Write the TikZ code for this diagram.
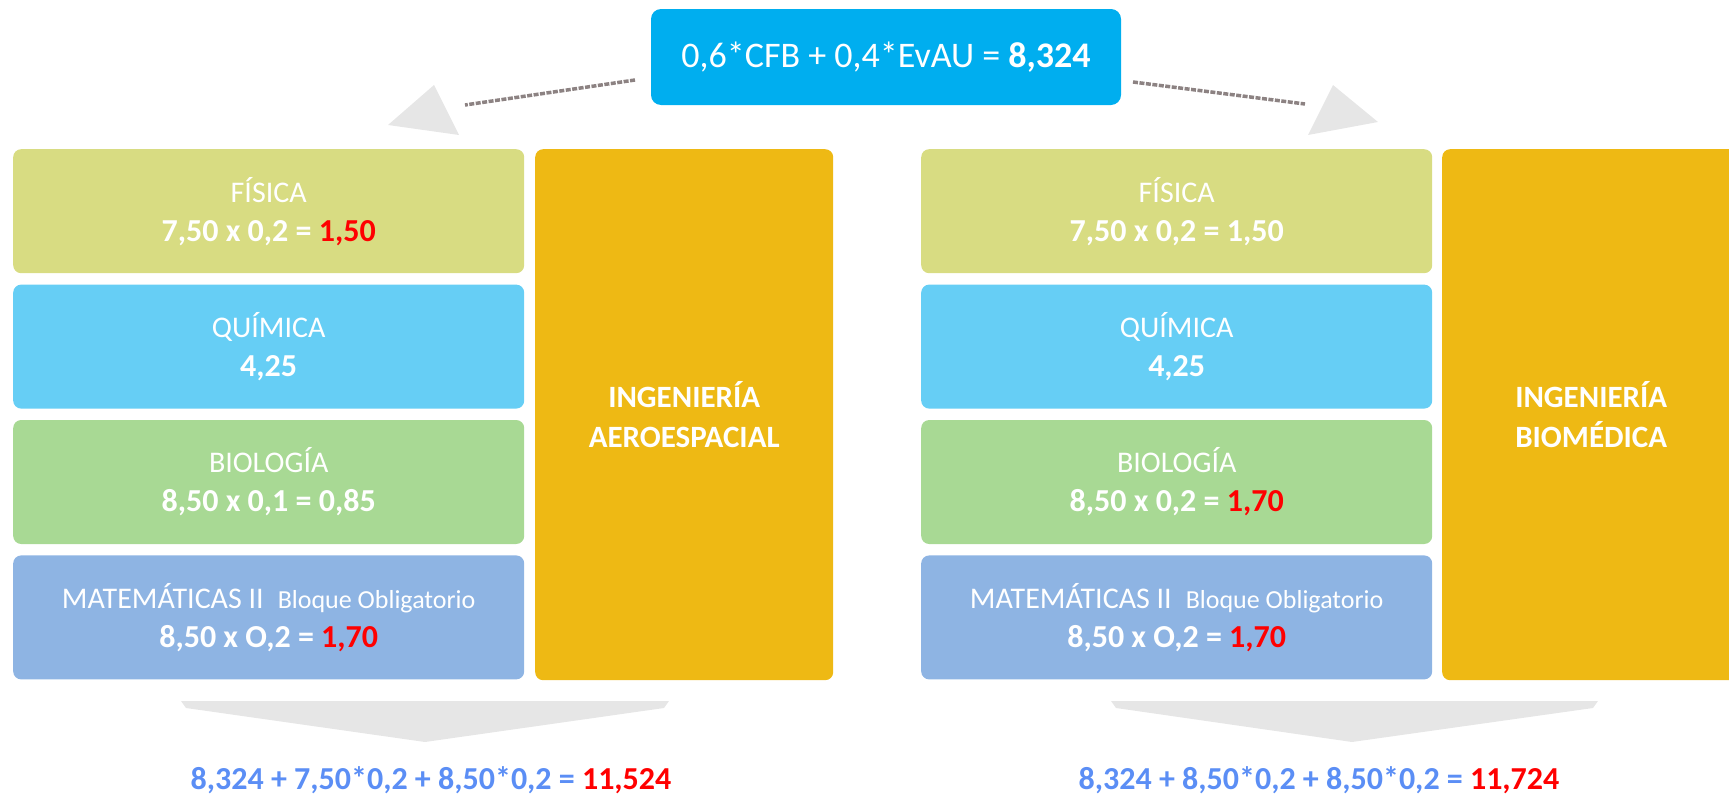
\documentclass[tikz,border=0pt]{standalone}
\usepackage{fontspec}
\setmainfont{Carlito}
\usetikzlibrary{positioning}
\definecolor{cfis}{HTML}{D8DC82}
\definecolor{cqui}{HTML}{66CEF5}
\definecolor{cbio}{HTML}{A8D994}
\definecolor{cmat}{HTML}{8EB4E3}
\definecolor{cing}{HTML}{EEB914}
\definecolor{ctop}{HTML}{00AEEF}
\definecolor{clink}{HTML}{8C8282}
\definecolor{chead}{HTML}{E6E6E6}
\definecolor{cred}{HTML}{FF0000}
\definecolor{cblue}{HTML}{5B8EF5}
\tikzstyle{subject} = [rectangle, text=white, rounded corners=8pt, %
   minimum width=511pt, minimum height=124pt, inner sep=0pt, %
   align=center, font=\fontsize{30}{39}\selectfont]
\tikzstyle{career} = [rectangle, fill=cing, text=white, rounded corners=8pt, %
   minimum width=298pt, minimum height=531pt, inner sep=0pt, %
   align=center, font=\fontsize{31}{40}\selectfont\bfseries]
\tikzstyle{formula} = [rectangle, fill=ctop, text=white, rounded corners=10pt, %
   minimum width=470pt, minimum height=96pt, font=\fontsize{36}{40}\selectfont]
\tikzstyle{total} = [text=cblue, font=\fontsize{32}{38}\selectfont\bfseries]
\tikzstyle{link} = [draw=clink, line width=3.5pt, dash pattern=on 5pt off 1.5pt]
\tikzstyle{head} = [fill=chead]
\newcommand{\nota}[1]{{\fontsize{32}{39}\selectfont\bfseries #1}}
\newcommand{\rojo}[1]{\textcolor{cred}{#1}}

\begin{document}
\begin{tikzpicture}[x=1pt,y=-1pt]
   \useasboundingbox (0,0) rectangle (1729,795);

   % Place nodes
   \node[formula](cfb) at (886,57){0,6*CFB + 0,4*EvAU = \textbf{8,324}};

   % AEROESPACIAL %%%%%%%%%%%%%%%%%%%%%%%%%%%%%%%%%%%%%%%%%%%%%%%%%%
   \node[subject, fill=cfis, anchor=north west](fis1) at (13,149){%
      FÍSICA\\\nota{7,50 x 0,2 = \rojo{1,50}}};
   \node[subject, fill=cqui, below=11pt of fis1](qui1){%
      QUÍMICA\\\nota{4,25}};
   \node[subject, fill=cbio, below=11pt of qui1](bio1){%
      BIOLOGÍA\\\nota{8,50 x 0,1 = 0,85}};
   \node[subject, fill=cmat, below=11pt of bio1](mat1){%
      MATEMÁTICAS II\hspace{14pt}{\fontsize{26}{39}\selectfont Bloque Obligatorio}\\%
      \nota{8,50 x O,2 = \rojo{1,70}}};
   \node[career, anchor=north west](ing1) at (535,149){INGENIERÍA\\AEROESPACIAL};

   % BIOMEDICA %%%%%%%%%%%%%%%%%%%%%%%%%%%%%%%%%%%%%%%%%%%%%%%%%%%%%
   \node[subject, fill=cfis, anchor=north west](fis2) at (921,149){%
      FÍSICA\\\nota{7,50 x 0,2 = 1,50}};
   \node[subject, fill=cqui, below=11pt of fis2](qui2){%
      QUÍMICA\\\nota{4,25}};
   \node[subject, fill=cbio, below=11pt of qui2](bio2){%
      BIOLOGÍA\\\nota{8,50 x 0,2 = \rojo{1,70}}};
   \node[subject, fill=cmat, below=11pt of bio2](mat2){%
      MATEMÁTICAS II\hspace{14pt}{\fontsize{26}{39}\selectfont Bloque Obligatorio}\\%
      \nota{8,50 x O,2 = \rojo{1,70}}};
   \node[career, anchor=north west](ing2) at (1442,149){INGENIERÍA\\BIOMÉDICA};

   % results
   \node[total](res1) at (431,780){8,324 + 7,50*0,2 + 8,50*0,2 = \rojo{11,524}};
   \node[total](res2) at (1319,780){8,324 + 8,50*0,2 + 8,50*0,2 = \rojo{11,724}};

   \coordinate (l1) at (635,80);
   \coordinate (l2) at (465,105);
   \coordinate (r1) at (1133,82);
   \coordinate (r2) at (1305,104);

   % Draw edges
   \path[link] (l1) -- (l2);
   \path[link] (r1) -- (r2);
   \path[head] (434,85) -- (388,125) -- (459,135) -- cycle;
   \path[head] (1333,85) -- (1308,135) -- (1378,122) -- cycle;
   \path[head] (181,701) -- (669,701) -- (664,708) -- (425,742) -- (186,708) -- cycle;
   \path[head] (1111,701) -- (1598,701) -- (1593,708) -- (1352,742) -- (1116,708) -- cycle;
\end{tikzpicture}
\end{document}
